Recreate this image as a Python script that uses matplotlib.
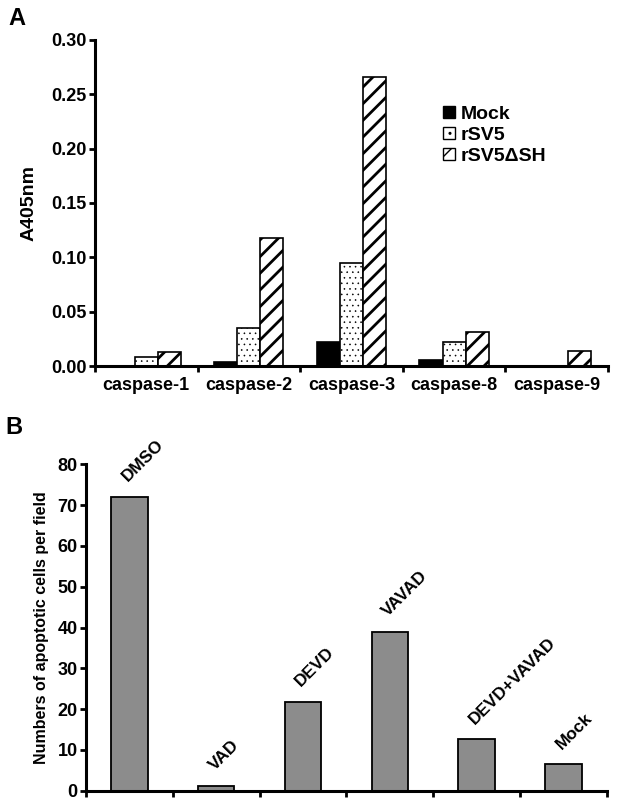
import numpy as np
import matplotlib
matplotlib.use('Agg')
import matplotlib.pyplot as plt
from matplotlib.patches import Patch

plt.rcParams['font.family'] = ['Liberation Sans', 'DejaVu Sans']
plt.rcParams['font.weight'] = 'bold'
plt.rcParams['axes.labelweight'] = 'bold'

# panel A data
caspases = ['caspase-1', 'caspase-2', 'caspase-3', 'caspase-8', 'caspase-9']
mock = [0.0, 0.004, 0.022, 0.0055, 0.0]
rsv5 = [0.008, 0.035, 0.095, 0.022, 0.0]
rsv5_dsh = [0.013, 0.118, 0.266, 0.031, 0.014]

# panel B data
treatments = ['DMSO', 'VAD', 'DEVD', 'VAVAD', 'DEVD+VAVAD', 'Mock']
apoptotic = [72.0, 1.2, 21.8, 39.0, 12.6, 6.5]

fig = plt.figure(figsize=(6.18, 8.11), dpi=100)


def style_axes(ax):
    for s in ['top', 'right']:
        ax.spines[s].set_visible(False)
    for s in ['left', 'bottom']:
        ax.spines[s].set_linewidth(2.2)
    ax.tick_params(axis='y', direction='out', length=4, width=2, labelsize=13, pad=2)
    ax.tick_params(axis='x', which='major', length=0, labelsize=13, pad=8)
    ax.tick_params(axis='x', which='minor', direction='out', length=4, width=2)


def hatch_lw(patches, lw):
    for p in patches:
        if hasattr(p, 'set_hatch_linewidth'):
            p.set_hatch_linewidth(lw)


# ---- A ----
axA = fig.add_axes([0.1537, 0.5487, 0.830, 0.402])
x = np.arange(len(caspases))
w = 0.225
axA.bar(x - w, mock, w, color='black', edgecolor='black', linewidth=1.2)
with plt.rc_context({'hatch.linewidth': 0.4}):
    b2 = axA.bar(x, rsv5, w, color='white', edgecolor='black', linewidth=1.2, hatch='...')
hatch_lw(b2, 0.4)
with plt.rc_context({'hatch.linewidth': 2.0}):
    b3 = axA.bar(x + w, rsv5_dsh, w, color='white', edgecolor='black', linewidth=1.2, hatch='//')
hatch_lw(b3, 2.0)
axA.set_xlim(-0.5, len(caspases) - 0.5)
axA.set_ylim(0, 0.30)
axA.set_yticks(np.arange(0, 0.31, 0.05))
axA.set_yticklabels(['{0:.2f}'.format(v) for v in np.arange(0, 0.31, 0.05)])
axA.set_xticks(x)
axA.set_xticklabels(caspases)
axA.set_xticks(np.arange(-0.5, len(caspases)), minor=True)
style_axes(axA)
axA.set_ylabel('A405nm', fontsize=14, labelpad=10)

with plt.rc_context({'hatch.linewidth': 1.0}):
    handles = [Patch(facecolor='black', edgecolor='black'),
               Patch(facecolor='white', edgecolor='black', hatch='..'),
               Patch(facecolor='white', edgecolor='black', hatch='//')]
    axA.legend(handles, ['Mock', 'rSV5', 'rSV5\u0394SH'], loc='upper left',
               bbox_to_anchor=(0.645, 0.852), frameon=False, fontsize=14,
               handlelength=0.6, handleheight=0.6, handletextpad=0.3, labelspacing=0.2)
fig.text(0.013, 0.977, 'A', fontsize=17, fontweight='bold', va='center')

# ---- B ----
axB = fig.add_axes([0.139, 0.025, 0.843, 0.4025])
xb = np.arange(len(treatments))
axB.bar(xb, apoptotic, 0.42, color='#8c8c8c', edgecolor='black', linewidth=1.3)
axB.set_xlim(-0.5, len(treatments) - 0.5)
axB.set_ylim(0, 80)
axB.set_yticks(np.arange(0, 81, 10))
axB.set_xticks([])
axB.set_xticks(np.arange(-0.5, len(treatments)), minor=True)
style_axes(axB)
axB.set_ylabel('Numbers of apoptotic cells per field', fontsize=11.5, labelpad=6)
for xi, v, t in zip(xb, apoptotic, treatments):
    axB.text(xi - 0.02, v + 3.6, t, rotation=45, rotation_mode='anchor',
             ha='left', va='baseline', fontsize=12.5, fontweight='bold')
fig.text(0.008, 0.473, 'B', fontsize=17, fontweight='bold', va='center')

fig.savefig('out.png', dpi=100)
